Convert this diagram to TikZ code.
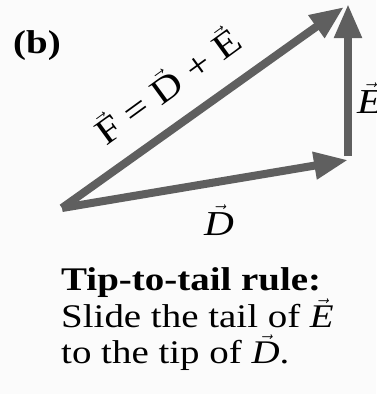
\documentclass[tikz,border=0pt]{standalone}
\usepackage{fontspec}
\setmainfont{Liberation Serif}[FakeStretch=1.18]
\usetikzlibrary{arrows.meta}
\definecolor{vecgray}{RGB}{95,95,95}
\definecolor{paper}{RGB}{251,251,251}
\newcommand\vv[1]{\ensuremath{\vec{\mbox{#1}}}}
\tikzset{
  vecarrow/.style={draw=vecgray, line width=8pt, line join=miter,
    -{Triangle[length=34pt,width=26pt]}},
  lbl/.style={inner sep=0pt, text=black},
  body/.style={lbl, font=\fontsize{33}{36}\selectfont, anchor=base west},
  veclabel/.style={lbl, font=\fontsize{35}{40}\selectfont}
}
\begin{document}
\begin{tikzpicture}[x=1pt,y=-1pt]
\useasboundingbox (0,0) rectangle (376,394);
\fill[paper] (0,0) rectangle (376,394);
\coordinate (O) at (62,208);
\coordinate (P) at (348,160);
\coordinate (Q) at (348,4);
\coordinate (R) at (344,7);
\draw[vecarrow] (O) -- (P);
\draw[vecarrow] ([yshift=4pt]P) -- (Q);
\draw[vecarrow] (O) -- (R);
\node[lbl, font=\bfseries\fontsize{33}{36}\selectfont, anchor=base west] (b) at (13,53) {(b)};
\node[veclabel, font=\fontsize{36}{40}\selectfont, anchor=base west, rotate=36] (F) at (106,147) {\vv{F} = \vv{D} + \vv{E}};
\node[veclabel, anchor=base west] (E) at (357,113) {\vv{\itshape E}};
\node[veclabel, anchor=base west] (D) at (204,235) {\vv{\itshape D}};
\node[body, font=\bfseries\fontsize{33}{36}\selectfont] (l1) at (61,290) {Tip-to-tail rule:};
\node[body] (l2) at (61,327) {Slide the tail of \vv{\itshape E}};
\node[body] (l3) at (61,363) {to the tip of \vv{\itshape D}.};
\end{tikzpicture}
\end{document}
